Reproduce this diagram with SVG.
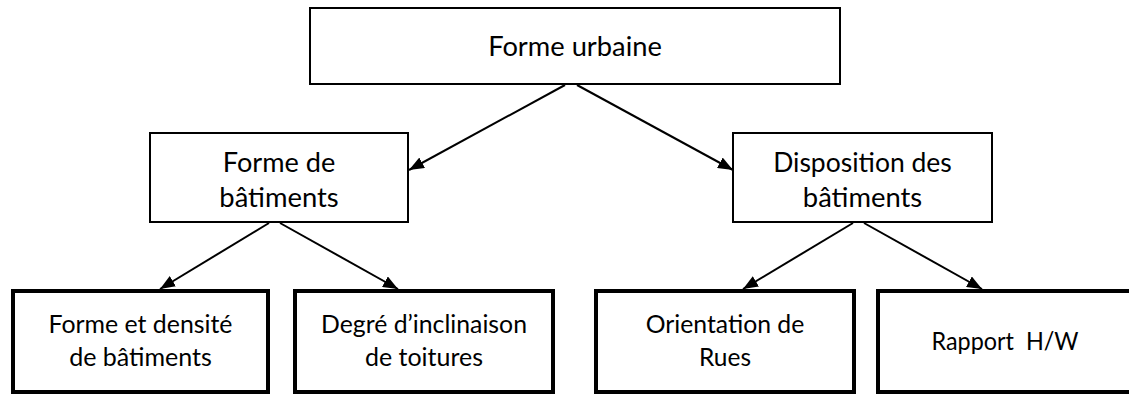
<svg xmlns="http://www.w3.org/2000/svg" width="1129" height="394" viewBox="0 0 1129 394">
  <style>
    .box { fill: #ffffff; stroke: #000000; stroke-width: 2; }
    .box-leaf { fill: #ffffff; stroke: #000000; stroke-width: 4; }
    .lbl { font-family: Lato, "Liberation Sans", sans-serif; fill: #000000; text-anchor: middle; white-space: pre; }
    .lbl-lg { font-size: 27px; }
    .lbl-sm { font-size: 24.5px; }
    .link { fill: none; stroke: #000000; stroke-width: 2; marker-end: url(#arrow); }
  </style>
  <defs>
    <marker id="arrow" markerUnits="userSpaceOnUse" markerWidth="15" markerHeight="12" viewBox="0 0 15 12" refX="15" refY="6" orient="auto">
      <path d="M0,0 L15,6 L0,12 Z" fill="#000000"/>
    </marker>
  </defs>
  <rect x="0" y="0" width="1129" height="394" fill="#ffffff"/>

  <!-- root -->
  <g id="forme-urbaine">
    <rect class="box" x="310" y="8" width="530" height="76"/>
    <text class="lbl lbl-lg" x="575" y="56" textLength="173.7" lengthAdjust="spacingAndGlyphs">Forme urbaine</text>
  </g>

  <!-- second level -->
  <g id="forme-batiments">
    <rect class="box" x="150" y="133" width="258" height="89"/>
    <text class="lbl lbl-lg" x="279" y="172" textLength="112.5" lengthAdjust="spacingAndGlyphs">Forme de</text>
    <text class="lbl lbl-lg" x="279" y="207" textLength="119.4" lengthAdjust="spacingAndGlyphs">bâtiments</text>
  </g>
  <g id="disposition-batiments">
    <rect class="box" x="733" y="133" width="259" height="89"/>
    <text class="lbl lbl-lg" x="862.5" y="172" textLength="178.7" lengthAdjust="spacingAndGlyphs">Disposition des</text>
    <text class="lbl lbl-lg" x="862.5" y="207" textLength="119.4" lengthAdjust="spacingAndGlyphs">bâtiments</text>
  </g>

  <!-- leaves -->
  <g id="forme-densite">
    <rect class="box-leaf" x="13" y="291" width="255" height="101"/>
    <text class="lbl lbl-sm" x="140.5" y="333" textLength="184" lengthAdjust="spacingAndGlyphs">Forme et densité</text>
    <text class="lbl lbl-sm" x="140.5" y="366" textLength="142.7" lengthAdjust="spacingAndGlyphs">de bâtiments</text>
  </g>
  <g id="inclinaison-toitures">
    <rect class="box-leaf" x="295" y="291" width="258" height="101"/>
    <text class="lbl lbl-sm" x="424" y="333" textLength="206" lengthAdjust="spacingAndGlyphs">Degré d’inclinaison</text>
    <text class="lbl lbl-sm" x="424" y="366" textLength="118" lengthAdjust="spacingAndGlyphs">de toitures</text>
  </g>
  <g id="orientation-rues">
    <rect class="box-leaf" x="596" y="291" width="258" height="101"/>
    <text class="lbl lbl-sm" x="725" y="333" textLength="158.6" lengthAdjust="spacingAndGlyphs">Orientation de</text>
    <text class="lbl lbl-sm" x="725" y="366" textLength="52" lengthAdjust="spacingAndGlyphs">Rues</text>
  </g>
  <g id="rapport-hw">
    <rect class="box-leaf" x="878" y="291" width="256" height="101"/>
    <text class="lbl lbl-sm" x="1005" y="350" textLength="147" lengthAdjust="spacingAndGlyphs">Rapport  H/W</text>
  </g>

  <!-- connectors -->
  <g id="connectors">
    <path class="link" d="M565,85 L409,170"/>
    <path class="link" d="M577,85 L733,170"/>
    <path class="link" d="M269,223 L160,289"/>
    <path class="link" d="M280,223 L398,289"/>
    <path class="link" d="M853,223 L743,289"/>
    <path class="link" d="M864,223 L982,289"/>
  </g>
</svg>
